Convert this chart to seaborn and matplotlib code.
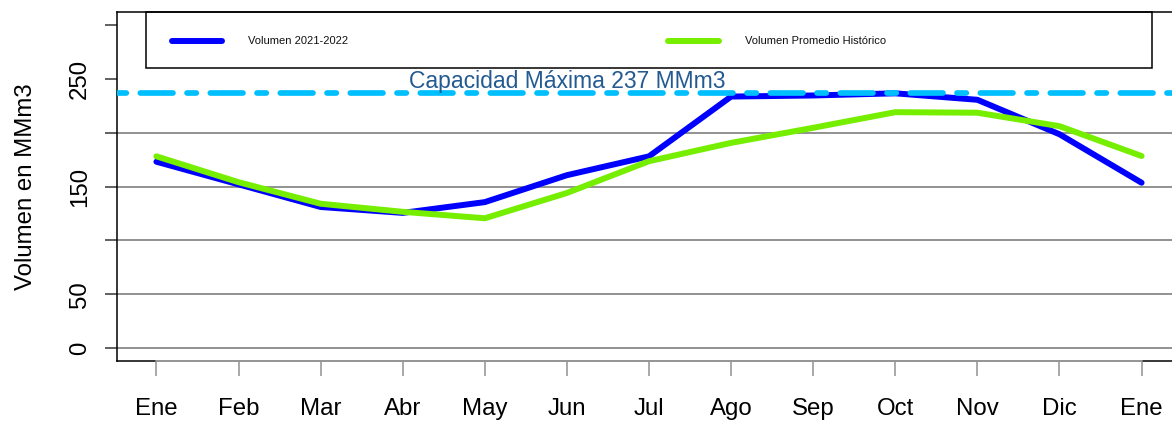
import numpy as np
import pandas as pd
import matplotlib
matplotlib.use("Agg")
import matplotlib.pyplot as plt
import matplotlib.transforms as mtransforms
from matplotlib.patches import Rectangle
import seaborn as sns

# Monthly reservoir volume (MMm3)
meses = ["Ene", "Feb", "Mar", "Abr", "May", "Jun", "Jul",
         "Ago", "Sep", "Oct", "Nov", "Dic", "Ene"]
volumen_2021_2022 = [173, 152, 131, 125.5, 135.5, 160.5, 178,
                     233.5, 234.5, 236.5, 230.5, 198.5, 153.5]
volumen_promedio = [178, 154, 134, 126.5, 120.5, 144, 173.5,
                    190.5, 204.5, 219, 218.5, 206, 178.3]
serie_nombres = ["Volumen 2021-2022", "Volumen Promedio Histórico"]
capacidad_maxima = 237
y_ticks = [0, 50, 100, 150, 200, 250, 300]
y_tick_labels = ["0", "50", "", "150", "", "250", ""]
grid_values = [0, 50, 100, 150, 200]

sns.set_style("white")
plt.rcParams["font.family"] = ["Liberation Sans", "DejaVu Sans"]
plt.rcParams["lines.scale_dashes"] = False
plt.rcParams["text.color"] = "black"
plt.rcParams["axes.labelcolor"] = "black"
plt.rcParams["xtick.labelcolor"] = "black"
plt.rcParams["ytick.labelcolor"] = "black"

posiciones = np.arange(1, len(meses) + 1)
df = pd.DataFrame({
    "pos": np.concatenate([posiciones, posiciones]),
    "volumen": volumen_2021_2022 + volumen_promedio,
    "serie": [serie_nombres[0]] * len(meses) + [serie_nombres[1]] * len(meses),
})

W, H = 1172, 421
fig = plt.figure(figsize=(W / 100, H / 100), dpi=100)
ax = fig.add_axes([117 / W, 60 / H, 1064 / W, 349 / H])

# horizontal grid
for g in grid_values:
    ax.axhline(g, color="#7f7f7f", lw=1.2, zorder=1)

colores = {serie_nombres[0]: "#0000FF", serie_nombres[1]: "#76EE00"}
sns.lineplot(data=df, x="pos", y="volumen", hue="serie", palette=colores,
             hue_order=serie_nombres, linewidth=4.3, legend=False, ax=ax,
             zorder=3)
for ln in ax.get_lines()[-2:]:
    ln.set_solid_capstyle("round")
    ln.set_solid_joinstyle("round")

# maximum capacity line
cap = ax.axhline(capacidad_maxima, color="#00BFFF", lw=4.1, zorder=4,
                 dash_capstyle="round")
cap.set_dashes((6.7, 10.1, 23.5, 10.1))
ax.text(6, capacidad_maxima + 4.5, f"Capacidad Máxima {capacidad_maxima} MMm3",
        ha="center", va="baseline", fontsize=16.5, color="#235A91", zorder=5)

ax.set_xlim(0.52, 13.48)
ax.set_ylim(-12, 312)
ax.set_xticks(posiciones)
ax.set_xticklabels(meses)
ax.set_yticks(y_ticks)
ax.set_yticklabels(y_tick_labels, rotation=90, va="center")
ax.set_xlabel("")
ax.set_ylabel("Volumen en MMm3", fontsize=17.3, labelpad=23, color="black")

ax.tick_params(axis="x", length=10.5, width=1.2, color="#999999",
               labelsize=17.3, pad=16, bottom=True, labelcolor="black")
ax.tick_params(axis="y", length=8.6, width=1.2, color="#444444",
               labelsize=17.3, pad=10, left=True, labelcolor="black")

for s in ax.spines.values():
    s.set_color("black")
    s.set_linewidth(1.1)

# axis baseline between first and last tick
trans = mtransforms.blended_transform_factory(ax.transData, ax.transAxes)
ax.plot([posiciones[0], posiciones[-1]], [0, 0], transform=trans,
        color="#999999", lw=1.4, clip_on=False, zorder=6)

# legend box
fig.add_artist(Rectangle((146 / W, 1 - 68 / H), (1152 - 146) / W, 56 / H,
                         transform=fig.transFigure, fill=False,
                         edgecolor="black", lw=1.1))
ley_y = 1 - 41 / H
for (x0, x1, xt), nombre in zip([(172, 222, 248), (668, 719, 745)], serie_nombres):
    fig.add_artist(plt.Line2D([x0 / W, x1 / W], [ley_y, ley_y],
                              transform=fig.transFigure, color=colores[nombre],
                              lw=4.3, solid_capstyle="round"))
    fig.text(xt / W, ley_y, nombre, fontsize=8, ha="left", va="center",
             color="#111111")

fig.savefig("out.png", dpi=100)
